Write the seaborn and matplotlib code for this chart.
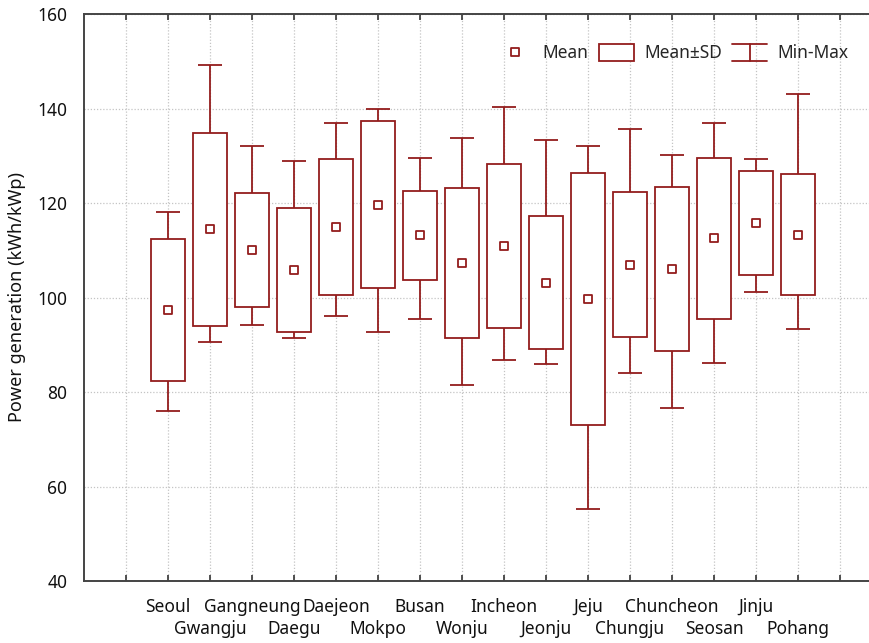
import numpy as np
import matplotlib
matplotlib.use("Agg")
import matplotlib.pyplot as plt
from matplotlib.lines import Line2D
from matplotlib.legend_handler import HandlerBase
import seaborn as sns

# values
cities = ["Seoul", "Gwangju", "Gangneung", "Daegu", "Daejeon", "Mokpo", "Busan", "Wonju",
          "Incheon", "Jeonju", "Jeju", "Chungju", "Chuncheon", "Seosan", "Jinju", "Pohang"]
means = [97.3, 114.4, 110.0, 105.9, 114.9, 119.6, 113.2, 107.3,
         110.9, 103.1, 99.7, 106.9, 106.1, 112.5, 115.8, 113.3]
sds = [15.0, 20.35, 12.05, 13.1, 14.35, 17.65, 9.4, 15.95,
       17.35, 14.05, 26.7, 15.35, 17.35, 17.0, 11.05, 12.8]
mins = [76.0, 90.6, 94.1, 91.4, 96.1, 92.7, 95.5, 81.5,
        86.7, 85.9, 55.2, 84.1, 76.7, 86.2, 101.2, 93.3]
maxs = [118.0, 149.2, 132.1, 128.9, 136.9, 140.0, 129.6, 133.7,
        140.3, 133.4, 132.1, 135.6, 130.1, 136.9, 129.3, 143.0]

red = "#931c1c"


class MinMaxHandler(HandlerBase):
    # legend symbol: vertical bar with two caps
    def create_artists(self, legend, orig_handle, xdescent, ydescent, width, height,
                       fontsize, trans):
        x0, y0 = -xdescent, -ydescent
        xc = x0 + width / 2
        kw = dict(color=red, linewidth=1.3, transform=trans)
        return [Line2D([x0, x0 + width], [y0 + height, y0 + height], **kw),
                Line2D([x0, x0 + width], [y0, y0], **kw),
                Line2D([xc, xc], [y0, y0 + height], **kw)]


sns.set_theme(style="ticks")
plt.rcParams["font.family"] = ["Noto Sans", "DejaVu Sans"]

fig = plt.figure(figsize=(8.7, 6.43), dpi=100)
ax = fig.add_axes([84 / 870, 1 - 581 / 643, 798 / 870, 567 / 643])

x = np.arange(len(cities))
means_a = np.array(means)
sds_a = np.array(sds)

# min-max whiskers
eb = ax.errorbar(x, means_a, yerr=[means_a - np.array(mins), np.array(maxs) - means_a],
                 fmt="none", ecolor=red, elinewidth=1.3, capsize=8.6, capthick=1.3,
                 zorder=2)
# mean +/- SD boxes
bars = ax.bar(x, 2 * sds_a, bottom=means_a - sds_a, width=0.81, facecolor="white",
              edgecolor=red, linewidth=1.3, zorder=3)
# means
sns.scatterplot(x=x, y=means_a, marker="s", s=40, facecolor="white", edgecolor=red,
                linewidth=1.3, zorder=4, ax=ax, legend=False)
mean_handle = ax.collections[-1]

ax.set_xlim(-2, 17)
ax.set_ylim(40, 160)
ax.set_yticks(range(40, 161, 20))

# labels alternate between two rows: even on major ticks, odd on minor ticks
major = [-1] + list(range(0, 16, 2)) + [16]
major_lab = [""] + cities[0::2] + [""]
ax.set_xticks(major)
ax.set_xticklabels(major_lab, fontsize=12.5)
ax.set_xticks(range(1, 16, 2), minor=True)
ax.set_xticklabels(cities[1::2], minor=True, fontsize=12.5)
ax.tick_params(axis="x", which="both", direction="in", length=4, width=1.2, top=True,
               color="#333333", labelcolor="#111111")
ax.tick_params(axis="x", which="major", pad=12)
ax.tick_params(axis="x", which="minor", pad=28)
ax.tick_params(axis="y", length=0, pad=12, labelsize=12.5, labelcolor="#111111")

ax.grid(True, which="both", axis="x", linestyle=(0, (1, 1.5)), color="#c4c4c4", linewidth=0.9)
ax.grid(True, which="major", axis="y", linestyle=(0, (1, 1.5)), color="#c4c4c4", linewidth=0.9)
ax.set_axisbelow(True)
for s in ax.spines.values():
    s.set_color("#444444")
    s.set_linewidth(1.4)

ax.set_ylabel("Power generation (kWh/kWp)", fontsize=13, color="#111111", labelpad=8)

leg = ax.legend([mean_handle, bars, eb], ["Mean", "Mean\u00b1SD", "Min-Max"], ncol=3,
                frameon=False, fontsize=12.5, loc="upper right",
                bbox_to_anchor=(864 / 870, 1 - 28 / 643), bbox_transform=fig.transFigure,
                handlelength=2.0, handleheight=1.2, handletextpad=0.6, columnspacing=0.6,
                handler_map={type(eb): MinMaxHandler()})

fig.savefig("out.png", dpi=100)
